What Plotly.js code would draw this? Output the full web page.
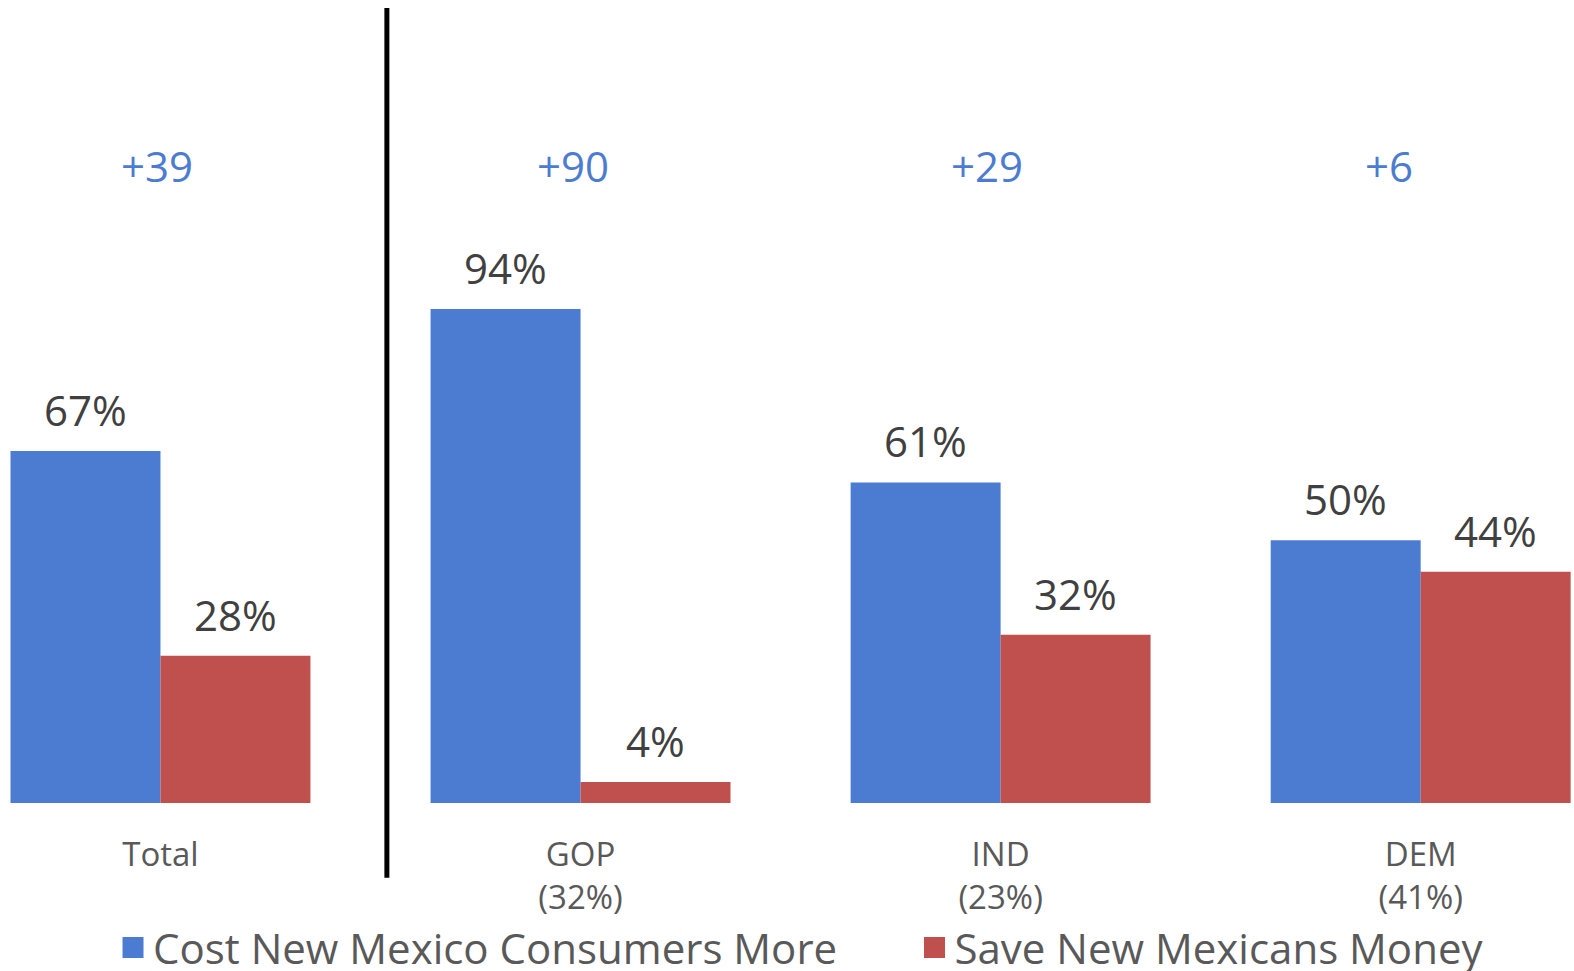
<!DOCTYPE html>
<html>
<head>
<meta charset="utf-8">
<script src="https://cdn.plot.ly/plotly-3.0.1.min.js"></script>
<style>html,body{margin:0;padding:0;background:#fff;}#chart{width:1574px;height:971px;}</style>
</head>
<body>
<div id="chart"></div>
<script>
const categories = ["Total", "GOP", "IND", "DEM"];
const tickLabels = ["Total", "GOP<br>(32%)", "IND<br>(23%)", "DEM<br>(41%)"];
const costMore = [67, 94, 61, 50];
const saveMoney = [28, 4, 32, 44];
const seriesNames = ["Cost New Mexico Consumers More", "Save New Mexicans Money"];
const marginNudge = [-3, -8, -14, -32];

const BLUE = "#4C7CD1";
const RED = "#C0504D";
const FONT = "Open Sans, Noto Sans, sans-serif";
const COLORS = [BLUE, RED];
const LEGENDS = ["legend", "legend2"];

const traces = [
  {type: "bar", name: seriesNames[0], x: categories, y: costMore, showlegend: false,
   marker: {color: BLUE, line: {width: 0}}, hoverinfo: "skip", legendgroup: "a"},
  {type: "bar", name: seriesNames[1], x: categories, y: saveMoney, showlegend: false,
   marker: {color: RED, line: {width: 0}}, hoverinfo: "skip", legendgroup: "b"}
];
// legend entries (square swatches) for the two series
seriesNames.forEach((n, i) => {
  traces.push({type: "scatter", mode: "markers", name: n, x: [null], y: [null],
    legendgroup: i === 0 ? "a" : "b", legend: LEGENDS[i],
    marker: {symbol: "square", size: 24, color: COLORS[i], line: {color: COLORS[i], width: 5}},
    hoverinfo: "skip"});
});

const annotations = [];
categories.forEach((c, i) => {
  annotations.push({x: c, y: costMore[i], xref: "x", yref: "y", text: costMore[i] + "%",
    showarrow: false, yanchor: "bottom", xanchor: "center", xshift: -75, yshift: 11,
    font: {family: FONT, size: 42, color: "#404040"}});
  annotations.push({x: c, y: saveMoney[i], xref: "x", yref: "y", text: saveMoney[i] + "%",
    showarrow: false, yanchor: "bottom", xanchor: "center", xshift: 75, yshift: 11,
    font: {family: FONT, size: 42, color: "#404040"}});
  const diff = costMore[i] - saveMoney[i];
  annotations.push({x: c, y: 121.4, xref: "x", yref: "y", text: (diff >= 0 ? "+" : "") + diff,
    showarrow: false, yanchor: "middle", xanchor: "center", xshift: marginNudge[i],
    font: {family: FONT, size: 42, color: BLUE}});
});

const legendBase = {orientation: "h", y: -0.138, yanchor: "top", xanchor: "left",
  itemsizing: "trace", font: {family: FONT, size: 42, color: "#595959"},
  itemclick: false, itemdoubleclick: false, bgcolor: "rgba(0,0,0,0)"};

const layout = {
  width: 1574, height: 971,
  margin: {l: 0, r: 0, t: 0, b: 168, autoexpand: false},
  paper_bgcolor: "#fff", plot_bgcolor: "#fff",
  barmode: "group", bargap: 0.286, bargroupgap: 0,
  font: {family: FONT},
  xaxis: {type: "category", range: [-0.382, 3.365], tickvals: categories, ticktext: tickLabels,
    showgrid: false, zeroline: false, showline: false, ticks: "", ticklabelstandoff: 29,
    tickfont: {family: FONT, size: 33, color: "#595959"}, fixedrange: true},
  yaxis: {range: [0, 152.8], visible: false, showgrid: false, zeroline: false, fixedrange: true},
  showlegend: true,
  legend: Object.assign({}, legendBase, {x: 0.0718}),
  legend2: Object.assign({}, legendBase, {x: 0.581}),
  shapes: [{type: "line", xref: "x", yref: "paper", x0: 0.539, x1: 0.539, y0: 0.99, y1: -0.093,
    line: {color: "#000", width: 5}}],
  annotations: annotations
};

Plotly.newPlot("chart", traces, layout, {displayModeBar: false, staticPlot: true});
</script>
</body>
</html>
